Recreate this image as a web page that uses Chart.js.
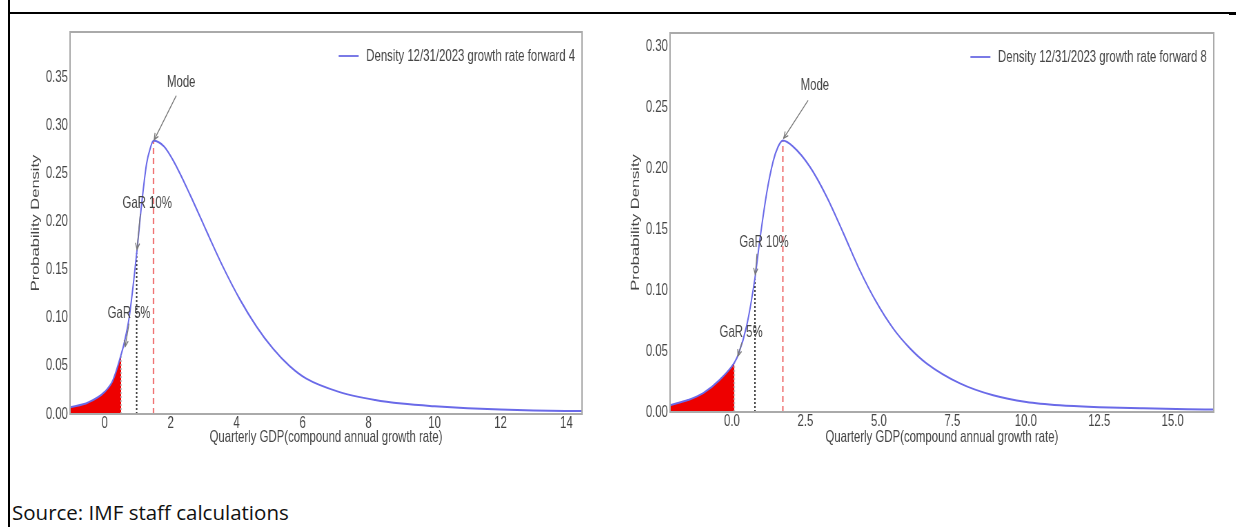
<!DOCTYPE html>
<html>
<head>
<meta charset="utf-8">
<script src="https://cdn.jsdelivr.net/npm/chart.js@4.4.1/dist/chart.umd.min.js"></script>
<style>
body { margin:0; background:#fff; width:1236px; height:527px; position:relative; overflow:hidden; }
#edgeLeft { position:absolute; left:8px; top:0; width:2px; height:527px; background:#000; }
#edgeTop { position:absolute; left:8px; top:12px; width:1228px; height:1.5px; background:#000; }
#edgeMark { position:absolute; left:1229px; top:12px; width:7px; height:3px; background:#000; }
/* la figura original esta comprimida en horizontal */
.box { position:absolute; top:0; height:450px; transform:scaleX(0.69); transform-origin:0 0; }
#boxLeft { left:10px; width:855px; }
#boxRight { left:610px; width:898px; }
#source { position:absolute; left:12px; top:500px; font-family:'Open Sans', sans-serif; font-size:20.5px; line-height:24px; color:#111; }
</style>
</head>
<body>
<div id="edgeLeft"></div>
<div id="edgeTop"></div>
<div id="edgeMark"></div>
<div class="box" id="boxLeft"><canvas id="chartFwd4"></canvas></div>
<div class="box" id="boxRight"><canvas id="chartFwd8"></canvas></div>
<div id="source">Source: IMF staff calculations</div>

<script>
// densidad a 4 trimestres
var fwd4X = [-1.05, -0.5, 0.0, 0.25, 0.5, 0.6, 0.75, 0.97, 1.12, 1.27, 1.38, 1.48, 1.8, 2.1, 2.6, 3.1, 3.6, 4.1, 4.6, 5.1, 5.6, 6.1, 7.1, 8.2, 9.0, 10.0, 11.0, 12.0, 13.0, 14.47];
var fwd4Y = [0.007, 0.012, 0.023, 0.035, 0.062, 0.075, 0.102, 0.167, 0.218, 0.260, 0.276, 0.284, 0.278, 0.262, 0.227, 0.189, 0.152, 0.119, 0.091, 0.068, 0.050, 0.037, 0.023, 0.0145, 0.0108, 0.008, 0.006, 0.0046, 0.0037, 0.003];
// GaR 5%, GaR 10%, moda
var fwd4Marks = { gar5: [0.5, 0.062], gar10: [0.97, 0.167], mode: [1.48, 0.284] };

// densidad a 8 trimestres
var fwd8X = [-2.11, -1.5, -0.98, -0.41, 0.08, 0.21, 0.5, 0.78, 0.95, 1.18, 1.4, 1.57, 1.73, 2.08, 2.65, 3.22, 3.79, 4.35, 4.92, 5.49, 6.05, 6.62, 7.76, 8.89, 10.02, 11.16, 12.5, 14.0, 15.5, 16.4];
var fwd8Y = [0.0056, 0.0098, 0.0155, 0.0266, 0.0405, 0.047, 0.071, 0.110, 0.142, 0.180, 0.206, 0.218, 0.223, 0.218, 0.2015, 0.177, 0.147, 0.1165, 0.090, 0.0685, 0.0525, 0.040, 0.0235, 0.0137, 0.0082, 0.0055, 0.0040, 0.003, 0.0023, 0.002];
var fwd8Marks = { gar5: [0.08, 0.0405], gar10: [0.78, 0.110], mode: [1.73, 0.223] };

var fontFamily = "'Liberation Sans', Arial, sans-serif";
var tickFont = { family: fontFamily, size: 16.5 };
var textGrey = '#454545';

// marco gris alrededor del area de dibujo
var frame = {
    id: 'frame',
    afterDraw: function(chart) {
        var a = chart.chartArea, ctx = chart.ctx;
        ctx.save();
        ctx.strokeStyle = '#aaaaaa';
        ctx.lineWidth = 2;
        ctx.strokeRect(a.left, a.top, a.right - a.left, a.bottom - a.top);
        ctx.restore();
    }
};

// leyenda dentro del grafico + flechas de anotacion
var notes = {
    id: 'notes',
    afterDatasetsDraw: function(chart) {
        var ctx = chart.ctx, a = chart.chartArea;
        var sx = chart.scales.x, sy = chart.scales.y;
        var opts = chart.options.plugins.notes;
        ctx.save();
        ctx.font = '16.5px ' + fontFamily;
        ctx.textBaseline = 'middle';
        ctx.textAlign = 'right';
        ctx.fillStyle = textGrey;
        var ly = a.top + 24;
        var tx = a.right - 10;
        ctx.fillText(opts.legend, tx, ly);
        var w = ctx.measureText(opts.legend).width;
        ctx.strokeStyle = '#7a7ae6';
        ctx.lineWidth = 2;
        ctx.beginPath();
        ctx.moveTo(tx - w - 40, ly);
        ctx.lineTo(tx - w - 11, ly);
        ctx.stroke();

        ctx.font = '16.5px ' + fontFamily;
        ctx.textAlign = 'center';
        opts.items.forEach(function(n) {
            ctx.fillStyle = textGrey;
            ctx.fillText(n.text, sx.getPixelForValue(n.at[0]), sy.getPixelForValue(n.at[1]));
            var x1 = sx.getPixelForValue(n.from[0]), y1 = sy.getPixelForValue(n.from[1]);
            var x2 = sx.getPixelForValue(n.to[0]), y2 = sy.getPixelForValue(n.to[1]);
            ctx.strokeStyle = '#777';
            ctx.lineWidth = 1.3;
            ctx.beginPath();
            ctx.moveTo(x1, y1);
            ctx.lineTo(x2, y2);
            ctx.stroke();
            var ang = Math.atan2(y2 - y1, x2 - x1);
            ctx.beginPath();
            ctx.moveTo(x2 - 7 * Math.cos(ang - 0.45), y2 - 7 * Math.sin(ang - 0.45));
            ctx.lineTo(x2, y2);
            ctx.lineTo(x2 - 7 * Math.cos(ang + 0.45), y2 - 7 * Math.sin(ang + 0.45));
            ctx.stroke();
        });
        ctx.restore();
    }
};

function toPoints(xs, ys) {
    return xs.map(function(x, i) { return { x: x, y: ys[i] }; });
}

function makeDensity(canvasId, xs, ys, marks, cfg) {
    var pts = toPoints(xs, ys);
    var tail = pts.filter(function(p) { return p.x <= marks.gar5[0]; });

    return new Chart(document.getElementById(canvasId), {
        type: 'line',
        data: {
            datasets: [
                {
                    data: pts,
                    borderColor: '#6a6ae8',
                    borderWidth: 2,
                    pointRadius: 0,
                    cubicInterpolationMode: 'monotone',
                    order: 0
                },
                {
                    data: tail,
                    borderWidth: 0,
                    pointRadius: 0,
                    backgroundColor: '#ee0000',
                    fill: 'origin',
                    cubicInterpolationMode: 'monotone',
                    order: 3
                },
                {
                    data: [{ x: marks.gar5[0], y: 0 }, { x: marks.gar5[0], y: marks.gar5[1] }],
                    borderColor: '#c4c4c4', borderWidth: 2, borderDash: [2, 2], pointRadius: 0, order: 1
                },
                {
                    data: [{ x: marks.gar10[0], y: 0 }, { x: marks.gar10[0], y: marks.gar10[1] }],
                    borderColor: '#333', borderWidth: 2, borderDash: [2, 2], pointRadius: 0, order: 1
                },
                {
                    data: [{ x: marks.mode[0], y: 0 }, { x: marks.mode[0], y: marks.mode[1] }],
                    borderColor: '#f07575', borderWidth: 2.2, borderDash: [6, 4], pointRadius: 0, order: 1
                }
            ]
        },
        options: {
            responsive: true,
            maintainAspectRatio: false,
            animation: false,
            layout: { padding: { top: cfg.padTop, right: cfg.padRight, left: 0, bottom: 0 } },
            plugins: {
                legend: { display: false },
                tooltip: { enabled: false },
                notes: { legend: cfg.legend, items: cfg.items }
            },
            scales: {
                x: {
                    type: 'linear',
                    min: cfg.xMin, max: cfg.xMax,
                    grid: { display: false, drawTicks: false },
                    border: { display: false },
                    ticks: {
                        stepSize: cfg.xStep, includeBounds: false, color: textGrey, font: tickFont, padding: 0,
                        maxRotation: 0,
                        callback: function(v) { return v.toFixed(cfg.xDec); }
                    },
                    title: { display: true, text: 'Quarterly GDP(compound annual growth rate)', color: textGrey, font: tickFont, padding: { top: 0, bottom: cfg.xTitlePad } },
                    afterFit: function(s) { s.height = cfg.xHeight; }
                },
                y: {
                    min: 0, max: cfg.yMax,
                    grid: { display: false, drawTicks: false },
                    border: { display: false },
                    ticks: {
                        stepSize: 0.05, includeBounds: false, color: textGrey, font: tickFont, padding: 3,
                        callback: function(v) { return v.toFixed(2); }
                    },
                    title: { display: true, text: 'Probability Density', color: textGrey, font: tickFont, padding: { top: cfg.yTitlePad, bottom: 0 } },
                    afterFit: function(s) { s.width = 87; }
                }
            }
        },
        plugins: [frame, notes]
    });
}

makeDensity('chartFwd4', fwd4X, fwd4Y, fwd4Marks, {
    xMin: -1.05, xMax: 14.47, xStep: 2, xDec: 0, yMax: 0.397,
    padTop: 32, padRight: 26, xHeight: 36, xTitlePad: 3, yTitlePad: 28,
    legend: 'Density 12/31/2023 growth rate forward 4',
    items: [
        { text: 'Mode', at: [2.32, 0.345], from: [2.17, 0.331], to: [1.5, 0.285] },
        { text: 'GaR 10%', at: [1.29, 0.219], from: [1.08, 0.208], to: [0.98, 0.171] },
        { text: 'GaR 5%', at: [0.74, 0.104], from: [0.74, 0.094], to: [0.62, 0.070] }
    ]
});

makeDensity('chartFwd8', fwd8X, fwd8Y, fwd8Marks, {
    xMin: -2.11, xMax: 16.4, xStep: 2.5, xDec: 1, yMax: 0.3114,
    padTop: 33, padRight: 23, xHeight: 38, xTitlePad: 3, yTitlePad: 28,
    legend: 'Density 12/31/2023 growth rate forward 8',
    items: [
        { text: 'Mode', at: [2.82, 0.268], from: [2.59, 0.256], to: [1.76, 0.225] },
        { text: 'GaR 10%', at: [1.09, 0.139], from: [0.85, 0.130], to: [0.79, 0.113] },
        { text: 'GaR 5%', at: [0.31, 0.065], from: [0.34, 0.057], to: [0.2, 0.046] }
    ]
});
</script>
</body>
</html>
